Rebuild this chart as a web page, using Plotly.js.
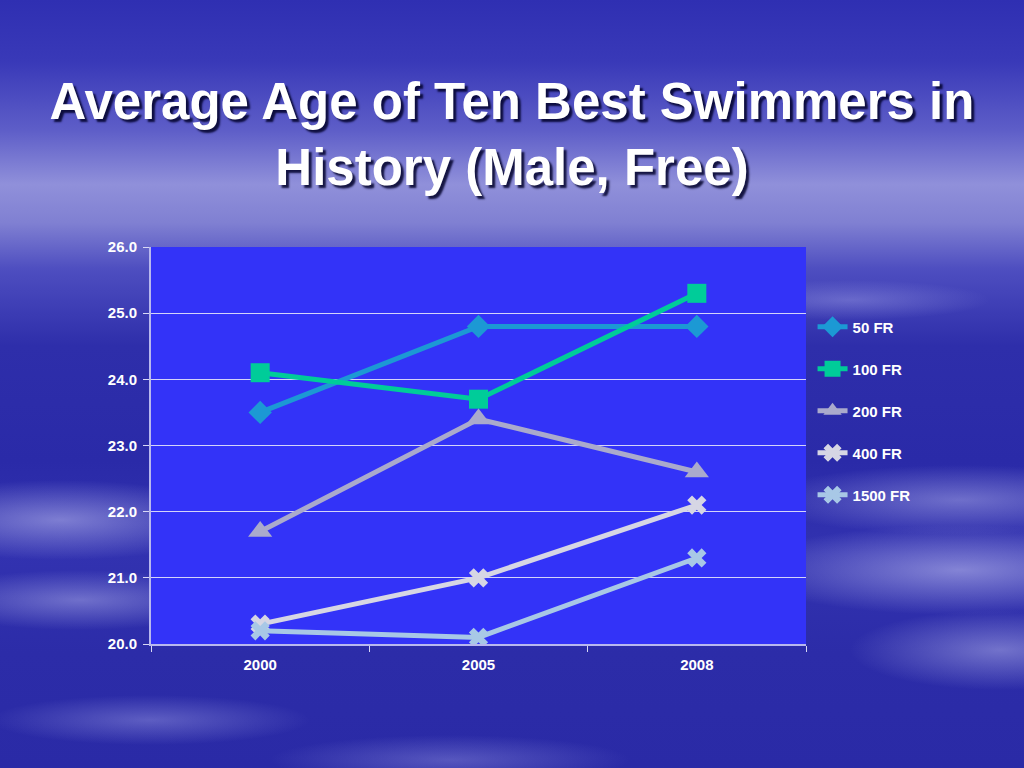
<!DOCTYPE html>
<html>
<head>
<meta charset="utf-8">
<script src="https://cdn.plot.ly/plotly-3.0.1.min.js"></script>
<style>
html,body{margin:0;padding:0;width:1024px;height:768px;overflow:hidden;}
body{
  background:
    radial-gradient(ellipse 180px 40px at 60px 520px, rgba(190,190,240,0.55), rgba(190,190,240,0) 100%),
    radial-gradient(ellipse 160px 30px at 80px 600px, rgba(190,190,240,0.45), rgba(190,190,240,0) 100%),
    radial-gradient(ellipse 200px 35px at 960px 500px, rgba(190,190,240,0.45), rgba(190,190,240,0) 100%),
    radial-gradient(ellipse 220px 45px at 960px 570px, rgba(200,200,245,0.55), rgba(200,200,245,0) 100%),
    radial-gradient(ellipse 150px 40px at 1000px 650px, rgba(200,200,245,0.45), rgba(200,200,245,0) 100%),
    radial-gradient(ellipse 160px 25px at 150px 720px, rgba(170,170,235,0.4), rgba(170,170,235,0) 100%),
    radial-gradient(ellipse 180px 25px at 450px 760px, rgba(170,170,235,0.35), rgba(170,170,235,0) 100%),
    radial-gradient(ellipse 140px 20px at 850px 300px, rgba(180,180,240,0.35), rgba(180,180,240,0) 100%),
    linear-gradient(to bottom, #2f2fb2 0%, #3939b8 8%, #5e5ec8 17%, #9090da 24%, #8080d2 29%, #4e4ec0 35%, #2e2eaa 45%, #2a2aa8 60%, #3232b0 72%, #2c2ca8 85%, #2a2aa6 100%);
}
#chart{width:1024px;height:768px;}
</style>
</head>
<body>
<div id="chart"></div>
<script>
const years = ['2000', '2005', '2008'];
const seriesNames = ['50 FR', '100 FR', '200 FR', '400 FR', '1500 FR'];
const fr50 = [23.5, 24.8, 24.8];
const fr100 = [24.1, 23.7, 25.3];
const fr200 = [21.7, 23.4, 22.6];
const fr400 = [20.3, 21.0, 22.1];
const fr1500 = [20.2, 20.1, 21.3];
const yTicks = [20, 21, 22, 23, 24, 25, 26];

const seriesValues = [fr50, fr100, fr200, fr400, fr1500];
const colors = ['#1c99d4', '#00cc99', '#aaaacc', '#d6d6e4', '#a8c8e6'];
const symbols = ['diamond', 'square', 'triangle-up', 'x', 'x'];
const sizes = [18, 19, 21, 17, 17];

const traces = seriesNames.map((name, i) => ({
  type: 'scatter',
  mode: 'lines+markers',
  name: name,
  x: years,
  y: seriesValues[i],
  legendgroup: 'g' + i,
  line: {color: colors[i], width: 5},
  marker: {symbol: symbols[i], size: sizes[i], color: colors[i], line: {width: 0}}
}));

const tickFont = {family: 'Liberation Sans, Arial, sans-serif', size: 15, color: '#ffffff', weight: 'bold'};

const layout = {
  width: 1024,
  height: 768,
  paper_bgcolor: 'rgba(0,0,0,0)',
  plot_bgcolor: '#3333f8',
  margin: {l: 151, r: 218, t: 247, b: 124, pad: 0},
  title: {
    text: 'Average Age of Ten Best Swimmers in<br>History (Male, Free)',
    x: 0.5, xanchor: 'center', xref: 'container',
    y: 0.845, yanchor: 'middle', yref: 'container',
    font: {family: 'Liberation Sans, Arial, sans-serif', size: 51, color: '#ffffff', weight: 'bold',
           shadow: '3px 3px 2px rgba(0,0,40,0.85)'}
  },
  xaxis: {
    type: 'category',
    categoryorder: 'array',
    categoryarray: years,
    range: [-0.5, 2.5],
    showline: true, linecolor: '#b8b8ee', linewidth: 2,
    ticks: 'outside', tickson: 'boundaries', ticklen: 6, tickcolor: '#d8d8f4', tickwidth: 1,
    showgrid: false,
    tickfont: tickFont,
    ticklabelstandoff: 6,
    fixedrange: true
  },
  yaxis: {
    range: [20, 26],
    tickvals: yTicks,
    tickformat: '.1f',
    showline: true, linecolor: '#b8b8ee', linewidth: 2,
    ticks: 'outside', ticklen: 6, tickcolor: '#d8d8f4', tickwidth: 1,
    showgrid: true, gridcolor: '#d4d4fa', gridwidth: 1.3,
    zeroline: false,
    tickfont: tickFont,
    ticklabelstandoff: 3,
    fixedrange: true
  },
  showlegend: true,
  legend: {
    x: 1.01, xanchor: 'left', xref: 'paper',
    y: 0.84, yanchor: 'top',
    bgcolor: 'rgba(0,0,0,0)',
    font: {family: 'Liberation Sans, Arial, sans-serif', size: 15, color: '#ffffff', weight: 'bold'},
    traceorder: 'grouped',
    tracegroupgap: 19.5,
    itemwidth: 30
  }
};

Plotly.newPlot('chart', traces, layout, {displayModeBar: false, staticPlot: true});
</script>
</body>
</html>
